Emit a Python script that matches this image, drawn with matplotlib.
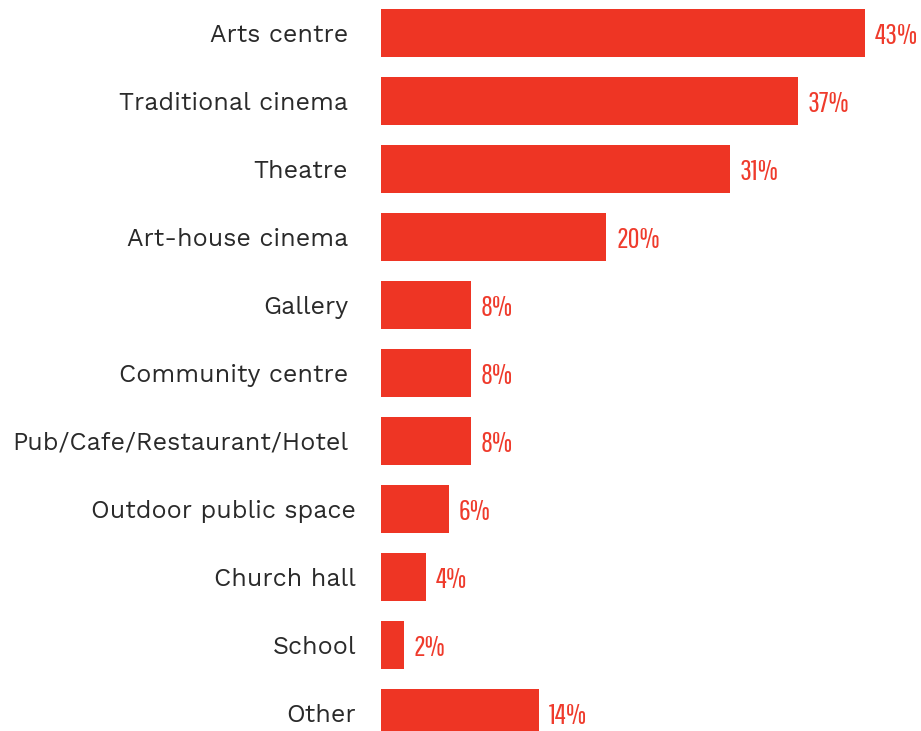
import matplotlib.pyplot as plt

# === DATA ===
categories = ['Arts centre', 'Traditional cinema', 'Theatre', 'Art-house cinema',
              'Gallery', 'Community centre', 'Pub/Cafe/Restaurant/Hotel',
              'Outdoor public space', 'Church hall', 'School', 'Other']
values = [43, 37, 31, 20, 8, 8, 8, 6, 4, 2, 14]
value_labels = [f"{v}%" for v in values]

# === STYLE ===
BAR_COLOR = '#ee3524'
LABEL_COLOR = '#2a2a2a'
VALUE_COLOR = '#ef3b2c'
# horizontal gap (pixels) between category label and bar start
LABEL_GAP = [33, 33, 33, 33, 33, 33, 33, 25, 25, 25, 25]

W, H, DPI = 921, 731, 100
fig = plt.figure(figsize=(W / DPI, H / DPI), dpi=DPI)
x0 = 381
px_per_unit = 11.26
ax = fig.add_axes([x0 / W, 0, 1 - x0 / W, 1])
ax.set_xlim(0, (W - x0) / px_per_unit)
ax.set_ylim((H - 33) / 68, -33 / 68)

ypos = list(range(len(categories)))
ax.barh(ypos, values, height=48 / 68, color=BAR_COLOR, linewidth=0)

for y, name, gap in zip(ypos, categories, LABEL_GAP):
    ax.annotate(name, xy=(0, y), xytext=(-gap * 72 / DPI, 0), textcoords='offset points',
                ha='right', va='center_baseline', fontsize=18, color=LABEL_COLOR,
                family=['Work Sans', 'DejaVu Sans'])

for y, v, lab in zip(ypos, values, value_labels):
    ax.annotate(lab, xy=(v, y), xytext=(10 * 72 / DPI, 0), textcoords='offset points',
                ha='left', va='center_baseline', fontsize=21, color=VALUE_COLOR,
                family=['Pathway Gothic One', 'DejaVu Sans'])

ax.axis('off')
fig.savefig('out.png', dpi=DPI)
